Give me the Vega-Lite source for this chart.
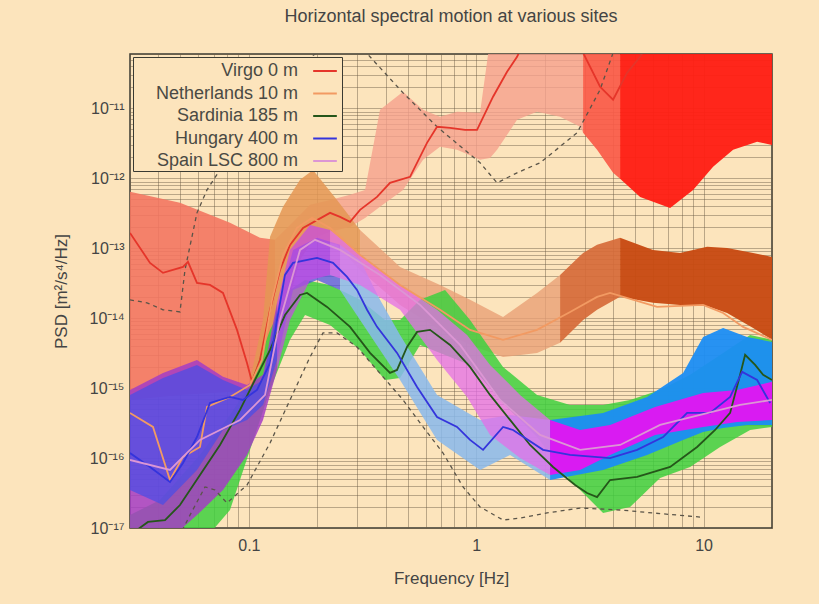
{
  "$schema": "https://vega.github.io/schema/vega-lite/v6.json",
  "width": 642,
  "height": 474,
  "autosize": {"type": "none"},
  "padding": {"left": 130, "top": 54, "right": 47, "bottom": 76},
  "title": {"text": "Horizontal spectral motion at various sites", "fontSize": 18, "font": "Liberation Sans", "fontWeight": "normal", "color": "#444444", "offset": 20},
  "datasets": {
    "bands": [
      {"site": "Virgo", "seg": "V1", "f": 0.03, "psd": 6.78e-16, "hi": 6.41e-13},
      {"site": "Virgo", "seg": "V1", "f": 0.04977, "psd": 8.0e-16, "hi": 4.46e-13},
      {"site": "Virgo", "seg": "V1", "f": 0.0826, "psd": 8.83e-16, "hi": 2.31e-13},
      {"site": "Virgo", "seg": "V1", "f": 0.1119, "psd": 8.0e-16, "hi": 1.41e-13},
      {"site": "Virgo", "seg": "V1", "f": 0.1303, "psd": 1.82e-15, "hi": 1.32e-13},
      {"site": "Virgo", "seg": "V2", "f": 0.1303, "psd": 1.82e-15, "hi": 1.32e-13},
      {"site": "Virgo", "seg": "V2", "f": 0.1517, "psd": 6.38e-14, "hi": 2.16e-13},
      {"site": "Virgo", "seg": "V2", "f": 0.1858, "psd": 1.32e-13, "hi": 4.18e-13},
      {"site": "Virgo", "seg": "V2", "f": 0.2275, "psd": 1.72e-13, "hi": 4.92e-13},
      {"site": "Virgo", "seg": "V2", "f": 0.2786, "psd": 2.02e-13, "hi": 5.81e-13},
      {"site": "Virgo", "seg": "V2", "f": 0.3243, "psd": 2.72e-13, "hi": 6.84e-13},
      {"site": "Virgo", "seg": "V2", "f": 0.3775, "psd": 3.91e-13, "hi": 9.55e-12},
      {"site": "Virgo", "seg": "V2", "f": 0.4766, "psd": 6.84e-13, "hi": 1.73e-11},
      {"site": "Virgo", "seg": "V2", "f": 0.5837, "psd": 1.84e-12, "hi": 9.55e-12},
      {"site": "Virgo", "seg": "V2", "f": 0.6933, "psd": 2.82e-12, "hi": 7.59e-12},
      {"site": "Virgo", "seg": "V2", "f": 0.8236, "psd": 2.56e-12, "hi": 8.93e-12},
      {"site": "Virgo", "seg": "V2", "f": 1.0397, "psd": 1.84e-12, "hi": 8.65e-12},
      {"site": "Virgo", "seg": "V2", "f": 1.1504, "psd": 1.96e-12, "hi": 9.57e-11},
      {"site": "Virgo", "seg": "V2", "f": 1.235, "psd": 2.56e-12, "hi": 9.57e-11},
      {"site": "Virgo", "seg": "V2", "f": 1.5123, "psd": 6.87e-12, "hi": 9.57e-11},
      {"site": "Virgo", "seg": "V2", "f": 1.852, "psd": 8.93e-12, "hi": 9.57e-11},
      {"site": "Virgo", "seg": "V2", "f": 2.3384, "psd": 7.59e-12, "hi": 9.57e-11},
      {"site": "Virgo", "seg": "V2", "f": 2.8635, "psd": 5.46e-12, "hi": 9.57e-11},
      {"site": "Virgo", "seg": "V2", "f": 2.9519, "psd": 4.48e-12, "hi": 9.57e-11},
      {"site": "Virgo", "seg": "V3", "f": 2.9519, "psd": 4.48e-12, "hi": 9.57e-11},
      {"site": "Virgo", "seg": "V3", "f": 3.4007, "psd": 2.56e-12, "hi": 9.57e-11},
      {"site": "Virgo", "seg": "V3", "f": 3.9991, "psd": 1.2e-12, "hi": 9.57e-11},
      {"site": "Virgo", "seg": "V3", "f": 4.2935, "psd": 9.84e-13, "hi": 9.57e-11},
      {"site": "Virgo", "seg": "V4", "f": 4.2935, "psd": 9.84e-13, "hi": 9.57e-11},
      {"site": "Virgo", "seg": "V4", "f": 5.2596, "psd": 5.43e-13, "hi": 9.57e-11},
      {"site": "Virgo", "seg": "V4", "f": 7.1269, "psd": 3.78e-13, "hi": 9.57e-11},
      {"site": "Virgo", "seg": "V4", "f": 8.995, "psd": 6.84e-13, "hi": 9.57e-11},
      {"site": "Virgo", "seg": "V4", "f": 11.016, "psd": 1.46e-12, "hi": 9.57e-11},
      {"site": "Virgo", "seg": "V4", "f": 13.49, "psd": 2.56e-12, "hi": 9.57e-11},
      {"site": "Virgo", "seg": "V4", "f": 17.204, "psd": 3.33e-12, "hi": 9.57e-11},
      {"site": "Virgo", "seg": "V4", "f": 20, "psd": 3.01e-12, "hi": 9.57e-11},

      {"site": "Netherlands", "seg": "N1", "f": 0.1012, "psd": 6.78e-16, "hi": 1.31e-15},
      {"site": "Netherlands", "seg": "N1", "f": 0.1154, "psd": 6.78e-16, "hi": 9.46e-15},
      {"site": "Netherlands", "seg": "N1", "f": 0.1239, "psd": 9.42e-16, "hi": 1.46e-13},
      {"site": "Netherlands", "seg": "N1", "f": 0.1413, "psd": 9.46e-15, "hi": 3.91e-13},
      {"site": "Netherlands", "seg": "N1", "f": 0.1679, "psd": 6.82e-14, "hi": 9.51e-13},
      {"site": "Netherlands", "seg": "N1", "f": 0.1915, "psd": 1.32e-13, "hi": 1.32e-12},
      {"site": "Netherlands", "seg": "N1", "f": 0.2442, "psd": 1.12e-13, "hi": 4.92e-13},
      {"site": "Netherlands", "seg": "N1", "f": 0.3083, "psd": 4.91e-14, "hi": 1.83e-13},
      {"site": "Netherlands", "seg": "N2", "f": 0.3083, "psd": 4.91e-14, "hi": 1.83e-13},
      {"site": "Netherlands", "seg": "N2", "f": 0.4623, "psd": 1.55e-14, "hi": 5.42e-14},
      {"site": "Netherlands", "seg": "N2", "f": 0.6933, "psd": 6.81e-15, "hi": 2.99e-14},
      {"site": "Netherlands", "seg": "N2", "f": 0.9395, "psd": 4.15e-15, "hi": 1.83e-14},
      {"site": "Netherlands", "seg": "N2", "f": 1.3123, "psd": 2.79e-15, "hi": 1.04e-14},
      {"site": "Netherlands", "seg": "N2", "f": 1.852, "psd": 3.19e-15, "hi": 2.3e-14},
      {"site": "Netherlands", "seg": "N2", "f": 2.3384, "psd": 4.44e-15, "hi": 4.16e-14},
      {"site": "Netherlands", "seg": "N3", "f": 2.3384, "psd": 4.44e-15, "hi": 4.16e-14},
      {"site": "Netherlands", "seg": "N3", "f": 2.9519, "psd": 9.46e-15, "hi": 8.59e-14},
      {"site": "Netherlands", "seg": "N3", "f": 3.4007, "psd": 1.32e-14, "hi": 1.12e-13},
      {"site": "Netherlands", "seg": "N3", "f": 4.2935, "psd": 2.02e-14, "hi": 1.41e-13},
      {"site": "Netherlands", "seg": "N4", "f": 4.2935, "psd": 2.02e-14, "hi": 1.41e-13},
      {"site": "Netherlands", "seg": "N4", "f": 5.9979, "psd": 1.66e-14, "hi": 9.48e-14},
      {"site": "Netherlands", "seg": "N4", "f": 7.885, "psd": 1.55e-14, "hi": 8.59e-14},
      {"site": "Netherlands", "seg": "N4", "f": 10.366, "psd": 1.5e-14, "hi": 1.05e-13},
      {"site": "Netherlands", "seg": "N4", "f": 12.694, "psd": 1.19e-14, "hi": 1.01e-13},
      {"site": "Netherlands", "seg": "N4", "f": 16.52, "psd": 7.26e-15, "hi": 8.59e-14},
      {"site": "Netherlands", "seg": "N4", "f": 20, "psd": 4.9e-15, "hi": 7.53e-14},

      {"site": "Sardinia", "seg": "G1", "f": 0.03, "psd": 5.71e-18, "hi": 1.53e-17},
      {"site": "Sardinia", "seg": "G1", "f": 0.04065, "psd": 5.71e-18, "hi": 2.52e-17},
      {"site": "Sardinia", "seg": "G1", "f": 0.06095, "psd": 5.71e-18, "hi": 1.11e-16},
      {"site": "Sardinia", "seg": "G1", "f": 0.0826, "psd": 1.81e-17, "hi": 4.14e-16},
      {"site": "Sardinia", "seg": "G1", "f": 0.1012, "psd": 1.31e-16, "hi": 1.11e-15},
      {"site": "Sardinia", "seg": "G1", "f": 0.1239, "psd": 9.42e-16, "hi": 6.81e-15},
      {"site": "Sardinia", "seg": "G1", "f": 0.1517, "psd": 4.9e-15, "hi": 2.54e-14},
      {"site": "Sardinia", "seg": "G1", "f": 0.1766, "psd": 1.11e-14, "hi": 3.53e-14},
      {"site": "Sardinia", "seg": "G1", "f": 0.2275, "psd": 8.02e-15, "hi": 2.99e-14},
      {"site": "Sardinia", "seg": "G1", "f": 0.3083, "psd": 3.52e-15, "hi": 1.83e-14},
      {"site": "Sardinia", "seg": "G1", "f": 0.3972, "psd": 1.31e-15, "hi": 9.46e-15},
      {"site": "Sardinia", "seg": "G1", "f": 0.4623, "psd": 1.4e-15, "hi": 9.46e-15},
      {"site": "Sardinia", "seg": "G1", "f": 0.5662, "psd": 4.15e-15, "hi": 1.83e-14},
      {"site": "Sardinia", "seg": "G1", "f": 0.7294, "psd": 2.99e-15, "hi": 2.54e-14},
      {"site": "Sardinia", "seg": "G1", "f": 0.9395, "psd": 2.15e-15, "hi": 9.46e-15},
      {"site": "Sardinia", "seg": "G1", "f": 1.3123, "psd": 6.14e-16, "hi": 2.01e-15},
      {"site": "Sardinia", "seg": "G1", "f": 1.852, "psd": 2.0e-16, "hi": 8.0e-16},
      {"site": "Sardinia", "seg": "G1", "f": 2.588, "psd": 4.86e-17, "hi": 5.75e-16},
      {"site": "Sardinia", "seg": "G1", "f": 3.6137, "psd": 1.64e-17, "hi": 5.75e-16},
      {"site": "Sardinia", "seg": "G1", "f": 4.7514, "psd": 2.0e-17, "hi": 6.78e-16},
      {"site": "Sardinia", "seg": "G1", "f": 6.4387, "psd": 5.19e-17, "hi": 9.42e-16},
      {"site": "Sardinia", "seg": "G1", "f": 8.7258, "psd": 7.46e-17, "hi": 1.55e-15},
      {"site": "Sardinia", "seg": "G1", "f": 11.825, "psd": 1.44e-16, "hi": 2.99e-15},
      {"site": "Sardinia", "seg": "G1", "f": 16.026, "psd": 2.52e-16, "hi": 5.77e-15},
      {"site": "Sardinia", "seg": "G1", "f": 20, "psd": 2.79e-16, "hi": 4.9e-15},

      {"site": "Hungary", "seg": "H1", "f": 0.03, "psd": 3.5e-17, "hi": 8.0e-16},
      {"site": "Hungary", "seg": "H1", "f": 0.04191, "psd": 2.13e-17, "hi": 1.4e-15},
      {"site": "Hungary", "seg": "H1", "f": 0.05912, "psd": 6.76e-17, "hi": 2.15e-15},
      {"site": "Hungary", "seg": "H1", "f": 0.07694, "psd": 2.52e-16, "hi": 1.31e-15},
      {"site": "Hungary", "seg": "H1", "f": 0.09813, "psd": 3.51e-16, "hi": 9.42e-16},
      {"site": "Hungary", "seg": "H1", "f": 0.1154, "psd": 5.75e-16, "hi": 1.31e-15},
      {"site": "Hungary", "seg": "H1", "f": 0.133, "psd": 2.53e-15, "hi": 1.32e-14},
      {"site": "Hungary", "seg": "H1", "f": 0.1564, "psd": 2.54e-14, "hi": 9.48e-14},
      {"site": "Hungary", "seg": "H1", "f": 0.1994, "psd": 3.53e-14, "hi": 1.41e-13},
      {"site": "Hungary", "seg": "H1", "f": 0.2518, "psd": 2.54e-14, "hi": 1.12e-13},
      {"site": "Hungary", "seg": "H2", "f": 0.2518, "psd": 2.54e-14, "hi": 1.12e-13},
      {"site": "Hungary", "seg": "H2", "f": 0.3083, "psd": 9.46e-15, "hi": 6.82e-14},
      {"site": "Hungary", "seg": "H2", "f": 0.3775, "psd": 3.52e-15, "hi": 1.83e-14},
      {"site": "Hungary", "seg": "H2", "f": 0.4623, "psd": 1.31e-15, "hi": 5.77e-15},
      {"site": "Hungary", "seg": "H2", "f": 0.6725, "psd": 1.82e-16, "hi": 8.0e-16},
      {"site": "Hungary", "seg": "H2", "f": 1.0397, "psd": 6.76e-17, "hi": 3.51e-16},
      {"site": "Hungary", "seg": "H2", "f": 1.4088, "psd": 1.11e-16, "hi": 4.14e-16},
      {"site": "Hungary", "seg": "H2", "f": 2.1128, "psd": 4.86e-17, "hi": 3.51e-16},
      {"site": "Hungary", "seg": "H3", "f": 2.1128, "psd": 4.86e-17, "hi": 3.51e-16},
      {"site": "Hungary", "seg": "H3", "f": 3.6137, "psd": 6.76e-17, "hi": 4.42e-16},
      {"site": "Hungary", "seg": "H3", "f": 5.6442, "psd": 1.11e-16, "hi": 7.48e-16},
      {"site": "Hungary", "seg": "H3", "f": 8.1283, "psd": 1.82e-16, "hi": 1.65e-15},
      {"site": "Hungary", "seg": "H3", "f": 9.9541, "psd": 2.36e-16, "hi": 5.4e-15},
      {"site": "Hungary", "seg": "H3", "f": 12.19, "psd": 2.7e-16, "hi": 7.26e-15},
      {"site": "Hungary", "seg": "H3", "f": 15.545, "psd": 2.98e-16, "hi": 5.4e-15},
      {"site": "Hungary", "seg": "H3", "f": 20, "psd": 2.98e-16, "hi": 4.58e-15},

      {"site": "Spain", "seg": "S1", "f": 0.03, "psd": 5.71e-18, "hi": 9.42e-16},
      {"site": "Spain", "seg": "S1", "f": 0.04191, "psd": 5.71e-18, "hi": 1.65e-15},
      {"site": "Spain", "seg": "S1", "f": 0.05912, "psd": 1.53e-17, "hi": 2.53e-15},
      {"site": "Spain", "seg": "S1", "f": 0.07694, "psd": 3.5e-17, "hi": 1.45e-15},
      {"site": "Spain", "seg": "S1", "f": 0.09813, "psd": 1.11e-16, "hi": 1.11e-15},
      {"site": "Spain", "seg": "S1", "f": 0.1154, "psd": 3.51e-16, "hi": 1.55e-15},
      {"site": "Spain", "seg": "S1", "f": 0.133, "psd": 1.82e-15, "hi": 1.66e-14},
      {"site": "Spain", "seg": "S1b", "f": 0.133, "psd": 1.82e-15, "hi": 1.66e-14},
      {"site": "Spain", "seg": "S1b", "f": 0.1517, "psd": 9.46e-15, "hi": 9.48e-14},
      {"site": "Spain", "seg": "S1b", "f": 0.1858, "psd": 3.53e-14, "hi": 2.16e-13},
      {"site": "Spain", "seg": "S1b", "f": 0.2275, "psd": 4.16e-14, "hi": 1.83e-13},
      {"site": "Spain", "seg": "S2", "f": 0.2275, "psd": 4.16e-14, "hi": 1.83e-13},
      {"site": "Spain", "seg": "S2", "f": 0.3083, "psd": 2.99e-14, "hi": 8.05e-14},
      {"site": "Spain", "seg": "S2", "f": 0.4623, "psd": 1.32e-14, "hi": 2.99e-14},
      {"site": "Spain", "seg": "S2", "f": 0.6725, "psd": 2.53e-15, "hi": 1.32e-14},
      {"site": "Spain", "seg": "S2", "f": 0.9115, "psd": 7.48e-16, "hi": 5.77e-15},
      {"site": "Spain", "seg": "S2", "f": 1.1504, "psd": 2.14e-16, "hi": 2.15e-15},
      {"site": "Spain", "seg": "S2", "f": 1.559, "psd": 1.0e-16, "hi": 8.0e-16},
      {"site": "Spain", "seg": "S2", "f": 2.1128, "psd": 5.73e-17, "hi": 3.51e-16},
      {"site": "Spain", "seg": "S3", "f": 2.1128, "psd": 5.73e-17, "hi": 3.51e-16},
      {"site": "Spain", "seg": "S3", "f": 2.8635, "psd": 6.76e-17, "hi": 2.52e-16},
      {"site": "Spain", "seg": "S3", "f": 3.8792, "psd": 1.11e-16, "hi": 2.98e-16},
      {"site": "Spain", "seg": "S3", "f": 6.1207, "psd": 2.14e-16, "hi": 5.38e-16},
      {"site": "Spain", "seg": "S3", "f": 9.9541, "psd": 2.79e-16, "hi": 8.53e-16},
      {"site": "Spain", "seg": "S3", "f": 14.047, "psd": 3.28e-16, "hi": 9.42e-16},
      {"site": "Spain", "seg": "S3", "f": 20, "psd": 3.51e-16, "hi": 1.23e-15}
    ],
    "models": [
      {"model": "NHNM", "f": 0.03, "psd": 1.83e-14},
      {"model": "NHNM", "f": 0.03563, "psd": 1.66e-14},
      {"model": "NHNM", "f": 0.04191, "psd": 1.32e-14},
      {"model": "NHNM", "f": 0.04977, "psd": 1.23e-14},
      {"model": "NHNM", "f": 0.05236, "psd": 4.91e-14},
      {"model": "NHNM", "f": 0.05912, "psd": 3.21e-13},
      {"model": "NHNM", "f": 0.06543, "psd": 6.84e-13},
      {"model": "NHNM", "f": 0.07464, "psd": 1.32e-12},
      {"model": "NHNM", "f": 0.08012, "psd": 1.46e-12},
      {"model": "NHNM", "f": 0.09141, "psd": 2.56e-12},
      {"model": "NHNM", "f": 0.1119, "psd": 9.55e-12},
      {"model": "NHNM", "f": 0.1517, "psd": 3.56e-11},
      {"model": "NHNM", "f": 0.2275, "psd": 8.13e-11},
      {"model": "NHNM", "f": 0.3083, "psd": 8.13e-11},
      {"model": "NHNM", "f": 0.3411, "psd": 5.47e-11},
      {"model": "NHNM", "f": 0.4766, "psd": 1.67e-11},
      {"model": "NHNM", "f": 0.6725, "psd": 5.46e-12},
      {"model": "NHNM", "f": 1.0397, "psd": 1.67e-12},
      {"model": "NHNM", "f": 1.235, "psd": 8.63e-13},
      {"model": "NHNM", "f": 1.5123, "psd": 1.2e-12},
      {"model": "NHNM", "f": 1.9091, "psd": 1.67e-12},
      {"model": "NHNM", "f": 2.7778, "psd": 4.48e-12},
      {"model": "NHNM", "f": 3.5055, "psd": 1.85e-11},
      {"model": "NHNM", "f": 3.9991, "psd": 6.24e-11},
      {"model": "NHNM", "f": 4.5168, "psd": 1.33e-10},
      {"model": "NLNM", "f": 0.04732, "psd": 5.71e-18},
      {"model": "NLNM", "f": 0.05508, "psd": 1.53e-17},
      {"model": "NLNM", "f": 0.06412, "psd": 3.86e-17},
      {"model": "NLNM", "f": 0.07096, "psd": 3.5e-17},
      {"model": "NLNM", "f": 0.08012, "psd": 2.28e-17},
      {"model": "NLNM", "f": 0.09813, "psd": 4.12e-17},
      {"model": "NLNM", "f": 0.1239, "psd": 1.64e-16},
      {"model": "NLNM", "f": 0.1517, "psd": 6.78e-16},
      {"model": "NLNM", "f": 0.1858, "psd": 2.79e-15},
      {"model": "NLNM", "f": 0.2119, "psd": 6.17e-15},
      {"model": "NLNM", "f": 0.2442, "psd": 6.17e-15},
      {"model": "NLNM", "f": 0.299, "psd": 3.88e-15},
      {"model": "NLNM", "f": 0.3892, "psd": 1.45e-15},
      {"model": "NLNM", "f": 0.4766, "psd": 6.78e-16},
      {"model": "NLNM", "f": 0.5837, "psd": 2.79e-16},
      {"model": "NLNM", "f": 0.7147, "psd": 1.18e-16},
      {"model": "NLNM", "f": 0.8752, "psd": 3.86e-17},
      {"model": "NLNM", "f": 1.0397, "psd": 2.0e-17},
      {"model": "NLNM", "f": 1.3123, "psd": 1.3e-17},
      {"model": "NLNM", "f": 1.559, "psd": 1.39e-17},
      {"model": "NLNM", "f": 2.0495, "psd": 1.64e-17},
      {"model": "NLNM", "f": 2.8635, "psd": 1.93e-17},
      {"model": "NLNM", "f": 4.2935, "psd": 1.81e-17},
      {"model": "NLNM", "f": 5.9979, "psd": 1.64e-17},
      {"model": "NLNM", "f": 10, "psd": 1.42e-17}
    ],
    "lines": [
      {"site": "Virgo 0 m", "f": 0.03, "psd": 1.66e-13},
      {"site": "Virgo 0 m", "f": 0.03674, "psd": 6.18e-14},
      {"site": "Virgo 0 m", "f": 0.04191, "psd": 4.45e-14},
      {"site": "Virgo 0 m", "f": 0.05131, "psd": 5.42e-14},
      {"site": "Virgo 0 m", "f": 0.05398, "psd": 6.38e-14},
      {"site": "Virgo 0 m", "f": 0.05912, "psd": 3.2e-14},
      {"site": "Virgo 0 m", "f": 0.06745, "psd": 2.99e-14},
      {"site": "Virgo 0 m", "f": 0.07694, "psd": 2.3e-14},
      {"site": "Virgo 0 m", "f": 0.08867, "psd": 6.81e-15},
      {"site": "Virgo 0 m", "f": 0.09813, "psd": 2.29e-15},
      {"site": "Virgo 0 m", "f": 0.1032, "psd": 1.23e-15},
      {"site": "Virgo 0 m", "f": 0.1119, "psd": 2.53e-15},
      {"site": "Virgo 0 m", "f": 0.1239, "psd": 1.32e-14},
      {"site": "Virgo 0 m", "f": 0.1371, "psd": 4.91e-14},
      {"site": "Virgo 0 m", "f": 0.1517, "psd": 1.12e-13},
      {"site": "Virgo 0 m", "f": 0.1731, "psd": 1.96e-13},
      {"site": "Virgo 0 m", "f": 0.2275, "psd": 3.21e-13},
      {"site": "Virgo 0 m", "f": 0.2518, "psd": 2.81e-13},
      {"site": "Virgo 0 m", "f": 0.2786, "psd": 2.39e-13},
      {"site": "Virgo 0 m", "f": 0.3083, "psd": 3.54e-13},
      {"site": "Virgo 0 m", "f": 0.3662, "psd": 5.43e-13},
      {"site": "Virgo 0 m", "f": 0.4176, "psd": 8.63e-13},
      {"site": "Virgo 0 m", "f": 0.5116, "psd": 1.05e-12},
      {"site": "Virgo 0 m", "f": 0.6075, "psd": 3.22e-12},
      {"site": "Virgo 0 m", "f": 0.6725, "psd": 5.46e-12},
      {"site": "Virgo 0 m", "f": 0.7672, "psd": 5.27e-12},
      {"site": "Virgo 0 m", "f": 0.8932, "psd": 4.94e-12},
      {"site": "Virgo 0 m", "f": 1.0085, "psd": 4.94e-12},
      {"site": "Virgo 0 m", "f": 1.1859, "psd": 1.47e-11},
      {"site": "Virgo 0 m", "f": 1.3666, "psd": 3.34e-11},
      {"site": "Virgo 0 m", "f": 1.5123, "psd": 5.47e-11},
      {"site": "Virgo 0 m", "f": 1.6399, "psd": 9.57e-11},
      {"site": "Virgo 0 m", "f": 2.7221, "psd": 9.57e-11},
      {"site": "Virgo 0 m", "f": 2.9519, "psd": 6.24e-11},
      {"site": "Virgo 0 m", "f": 3.5055, "psd": 2.04e-11},
      {"site": "Virgo 0 m", "f": 3.9991, "psd": 1.33e-11},
      {"site": "Virgo 0 m", "f": 4.6093, "psd": 3.23e-11},
      {"site": "Virgo 0 m", "f": 5.2596, "psd": 5.47e-11},
      {"site": "Virgo 0 m", "f": 5.8184, "psd": 9.57e-11},
      {"site": "Virgo 0 m", "f": 20, "psd": 9.57e-11},

      {"site": "Netherlands 10 m", "f": 0.03, "psd": 4.42e-16},
      {"site": "Netherlands 10 m", "f": 0.03787, "psd": 2.79e-16},
      {"site": "Netherlands 10 m", "f": 0.04498, "psd": 4.86e-17},
      {"site": "Netherlands 10 m", "f": 0.05131, "psd": 1.04e-16},
      {"site": "Netherlands 10 m", "f": 0.06095, "psd": 1.44e-16},
      {"site": "Netherlands 10 m", "f": 0.06543, "psd": 5.38e-16},
      {"site": "Netherlands 10 m", "f": 0.0826, "psd": 7.48e-16},
      {"site": "Netherlands 10 m", "f": 0.1012, "psd": 1.11e-15},
      {"site": "Netherlands 10 m", "f": 0.1142, "psd": 2.53e-15},
      {"site": "Netherlands 10 m", "f": 0.1264, "psd": 1.83e-14},
      {"site": "Netherlands 10 m", "f": 0.1413, "psd": 8.05e-14},
      {"site": "Netherlands 10 m", "f": 0.1628, "psd": 1.96e-13},
      {"site": "Netherlands 10 m", "f": 0.1896, "psd": 2.72e-13},
      {"site": "Netherlands 10 m", "f": 0.2275, "psd": 1.96e-13},
      {"site": "Netherlands 10 m", "f": 0.3083, "psd": 8.05e-14},
      {"site": "Netherlands 10 m", "f": 0.4623, "psd": 2.99e-14},
      {"site": "Netherlands 10 m", "f": 0.6933, "psd": 1.32e-14},
      {"site": "Netherlands 10 m", "f": 0.9395, "psd": 6.81e-15},
      {"site": "Netherlands 10 m", "f": 1.3123, "psd": 4.9e-15},
      {"site": "Netherlands 10 m", "f": 1.852, "psd": 6.81e-15},
      {"site": "Netherlands 10 m", "f": 2.588, "psd": 1.23e-14},
      {"site": "Netherlands 10 m", "f": 3.4007, "psd": 2.02e-14},
      {"site": "Netherlands 10 m", "f": 3.8792, "psd": 2.3e-14},
      {"site": "Netherlands 10 m", "f": 6.246, "psd": 1.45e-14},
      {"site": "Netherlands 10 m", "f": 9.9541, "psd": 1.55e-14},
      {"site": "Netherlands 10 m", "f": 12.19, "psd": 1.19e-14},
      {"site": "Netherlands 10 m", "f": 14.928, "psd": 7.52e-15},
      {"site": "Netherlands 10 m", "f": 20, "psd": 4.9e-15},

      {"site": "Sardinia 185 m", "f": 0.03, "psd": 7.94e-18},
      {"site": "Sardinia 185 m", "f": 0.036, "psd": 1.22e-17},
      {"site": "Sardinia 185 m", "f": 0.04277, "psd": 1.3e-17},
      {"site": "Sardinia 185 m", "f": 0.04977, "psd": 2.13e-17},
      {"site": "Sardinia 185 m", "f": 0.06095, "psd": 5.73e-17},
      {"site": "Sardinia 185 m", "f": 0.07464, "psd": 1.54e-16},
      {"site": "Sardinia 185 m", "f": 0.09141, "psd": 4.88e-16},
      {"site": "Sardinia 185 m", "f": 0.1064, "psd": 1.31e-15},
      {"site": "Sardinia 185 m", "f": 0.1239, "psd": 3.52e-15},
      {"site": "Sardinia 185 m", "f": 0.1442, "psd": 1.11e-14},
      {"site": "Sardinia 185 m", "f": 0.1679, "psd": 2.15e-14},
      {"site": "Sardinia 185 m", "f": 0.1802, "psd": 2.3e-14},
      {"site": "Sardinia 185 m", "f": 0.2207, "psd": 1.45e-14},
      {"site": "Sardinia 185 m", "f": 0.2786, "psd": 7.52e-15},
      {"site": "Sardinia 185 m", "f": 0.3411, "psd": 3.19e-15},
      {"site": "Sardinia 185 m", "f": 0.4176, "psd": 1.65e-15},
      {"site": "Sardinia 185 m", "f": 0.4484, "psd": 1.82e-15},
      {"site": "Sardinia 185 m", "f": 0.4963, "psd": 3.88e-15},
      {"site": "Sardinia 185 m", "f": 0.5493, "psd": 6.37e-15},
      {"site": "Sardinia 185 m", "f": 0.6263, "psd": 6.81e-15},
      {"site": "Sardinia 185 m", "f": 0.7672, "psd": 4.15e-15},
      {"site": "Sardinia 185 m", "f": 0.9395, "psd": 2.01e-15},
      {"site": "Sardinia 185 m", "f": 1.1504, "psd": 8.0e-16},
      {"site": "Sardinia 185 m", "f": 1.4088, "psd": 3.51e-16},
      {"site": "Sardinia 185 m", "f": 1.7251, "psd": 1.54e-16},
      {"site": "Sardinia 185 m", "f": 2.1779, "psd": 7.46e-17},
      {"site": "Sardinia 185 m", "f": 2.7221, "psd": 4.12e-17},
      {"site": "Sardinia 185 m", "f": 3.0737, "psd": 3.17e-17},
      {"site": "Sardinia 185 m", "f": 3.4007, "psd": 2.77e-17},
      {"site": "Sardinia 185 m", "f": 3.8792, "psd": 4.86e-17},
      {"site": "Sardinia 185 m", "f": 5.1023, "psd": 5.37e-17},
      {"site": "Sardinia 185 m", "f": 7.1269, "psd": 7.46e-17},
      {"site": "Sardinia 185 m", "f": 9.367, "psd": 1.44e-16},
      {"site": "Sardinia 185 m", "f": 11.241, "psd": 2.52e-16},
      {"site": "Sardinia 185 m", "f": 13.086, "psd": 4.42e-16},
      {"site": "Sardinia 185 m", "f": 14.481, "psd": 1.55e-15},
      {"site": "Sardinia 185 m", "f": 15.233, "psd": 2.99e-15},
      {"site": "Sardinia 185 m", "f": 16.859, "psd": 2.15e-15},
      {"site": "Sardinia 185 m", "f": 18.281, "psd": 1.55e-15},
      {"site": "Sardinia 185 m", "f": 20, "psd": 1.31e-15},

      {"site": "Hungary 400 m", "f": 0.03, "psd": 1.18e-16},
      {"site": "Hungary 400 m", "f": 0.03674, "psd": 7.46e-17},
      {"site": "Hungary 400 m", "f": 0.04498, "psd": 4.55e-17},
      {"site": "Hungary 400 m", "f": 0.05131, "psd": 8.51e-17},
      {"site": "Hungary 400 m", "f": 0.05912, "psd": 2.0e-16},
      {"site": "Hungary 400 m", "f": 0.06745, "psd": 6.14e-16},
      {"site": "Hungary 400 m", "f": 0.0826, "psd": 7.48e-16},
      {"site": "Hungary 400 m", "f": 0.09423, "psd": 6.78e-16},
      {"site": "Hungary 400 m", "f": 0.1086, "psd": 9.42e-16},
      {"site": "Hungary 400 m", "f": 0.1239, "psd": 2.29e-15},
      {"site": "Hungary 400 m", "f": 0.133, "psd": 9.46e-15},
      {"site": "Hungary 400 m", "f": 0.1442, "psd": 4.16e-14},
      {"site": "Hungary 400 m", "f": 0.1564, "psd": 6.18e-14},
      {"site": "Hungary 400 m", "f": 0.1994, "psd": 7.29e-14},
      {"site": "Hungary 400 m", "f": 0.2345, "psd": 6.18e-14},
      {"site": "Hungary 400 m", "f": 0.2703, "psd": 3.9e-14},
      {"site": "Hungary 400 m", "f": 0.299, "psd": 2.54e-14},
      {"site": "Hungary 400 m", "f": 0.3309, "psd": 1.32e-14},
      {"site": "Hungary 400 m", "f": 0.3662, "psd": 7.52e-15},
      {"site": "Hungary 400 m", "f": 0.4484, "psd": 3.19e-15},
      {"site": "Hungary 400 m", "f": 0.5493, "psd": 1.04e-15},
      {"site": "Hungary 400 m", "f": 0.6725, "psd": 3.87e-16},
      {"site": "Hungary 400 m", "f": 0.8236, "psd": 2.79e-16},
      {"site": "Hungary 400 m", "f": 0.9395, "psd": 1.82e-16},
      {"site": "Hungary 400 m", "f": 1.0718, "psd": 1.31e-16},
      {"site": "Hungary 400 m", "f": 1.3123, "psd": 2.79e-16},
      {"site": "Hungary 400 m", "f": 1.4522, "psd": 2.52e-16},
      {"site": "Hungary 400 m", "f": 1.968, "psd": 1.31e-16},
      {"site": "Hungary 400 m", "f": 2.588, "psd": 1.11e-16},
      {"site": "Hungary 400 m", "f": 3.8792, "psd": 1.0e-16},
      {"site": "Hungary 400 m", "f": 5.1023, "psd": 1.31e-16},
      {"site": "Hungary 400 m", "f": 6.6374, "psd": 2.0e-16},
      {"site": "Hungary 400 m", "f": 8.4644, "psd": 4.42e-16},
      {"site": "Hungary 400 m", "f": 10.686, "psd": 4.42e-16},
      {"site": "Hungary 400 m", "f": 13.086, "psd": 7.48e-16},
      {"site": "Hungary 400 m", "f": 14.777, "psd": 1.71e-15},
      {"site": "Hungary 400 m", "f": 17.204, "psd": 1.31e-15},
      {"site": "Hungary 400 m", "f": 19.626, "psd": 6.14e-16},

      {"site": "Spain LSC 800 m", "f": 0.03, "psd": 9.39e-17},
      {"site": "Spain LSC 800 m", "f": 0.04498, "psd": 6.76e-17},
      {"site": "Spain LSC 800 m", "f": 0.06095, "psd": 1.82e-16},
      {"site": "Spain LSC 800 m", "f": 0.09141, "psd": 3.51e-16},
      {"site": "Spain LSC 800 m", "f": 0.1178, "psd": 8.0e-16},
      {"site": "Spain LSC 800 m", "f": 0.1371, "psd": 9.46e-15},
      {"site": "Spain LSC 800 m", "f": 0.1679, "psd": 9.48e-14},
      {"site": "Spain LSC 800 m", "f": 0.1954, "psd": 1.32e-13},
      {"site": "Spain LSC 800 m", "f": 0.2518, "psd": 9.48e-14},
      {"site": "Spain LSC 800 m", "f": 0.3775, "psd": 4.16e-14},
      {"site": "Spain LSC 800 m", "f": 0.5662, "psd": 1.55e-14},
      {"site": "Spain LSC 800 m", "f": 0.849, "psd": 4.15e-15},
      {"site": "Spain LSC 800 m", "f": 1.2731, "psd": 6.78e-16},
      {"site": "Spain LSC 800 m", "f": 1.9091, "psd": 2.14e-16},
      {"site": "Spain LSC 800 m", "f": 2.8635, "psd": 1.31e-16},
      {"site": "Spain LSC 800 m", "f": 4.2935, "psd": 1.54e-16},
      {"site": "Spain LSC 800 m", "f": 6.4387, "psd": 2.98e-16},
      {"site": "Spain LSC 800 m", "f": 9.6559, "psd": 4.14e-16},
      {"site": "Spain LSC 800 m", "f": 14.481, "psd": 5.75e-16},
      {"site": "Spain LSC 800 m", "f": 20, "psd": 6.78e-16}
    ]
  },
  "encoding": {
    "x": {
      "field": "f",
      "type": "quantitative",
      "scale": {"type": "log", "domain": [0.03, 20], "nice": false},
      "axis": {
        "title": "Frequency [Hz]",
        "values": [0.03, 0.04, 0.05, 0.06, 0.07, 0.08, 0.09, 0.1, 0.2, 0.3, 0.4, 0.5, 0.6, 0.7, 0.8, 0.9, 1, 2, 3, 4, 5, 6, 7, 8, 9, 10, 20],
        "labelExpr": "datum.value == 0.1 ? '0.1' : datum.value == 1 ? '1' : datum.value == 10 ? '10' : ''",
        "labelPadding": 9,
        "titlePadding": 17
      }
    },
    "y": {
      "field": "psd",
      "type": "quantitative",
      "scale": {"type": "log", "domain": [1e-17, 6e-11], "nice": false},
      "axis": {
        "title": "PSD [m²/s⁴/Hz]",
        "values": [1e-17, 2e-17, 3e-17, 4e-17, 5e-17, 6e-17, 7e-17, 8e-17, 9e-17, 1e-16, 2e-16, 3e-16, 4e-16, 5e-16, 6e-16, 7e-16, 8e-16, 9e-16, 1e-15, 2e-15, 3e-15, 4e-15, 5e-15, 6e-15, 7e-15, 8e-15, 9e-15, 1e-14, 2e-14, 3e-14, 4e-14, 5e-14, 6e-14, 7e-14, 8e-14, 9e-14, 1e-13, 2e-13, 3e-13, 4e-13, 5e-13, 6e-13, 7e-13, 8e-13, 9e-13, 1e-12, 2e-12, 3e-12, 4e-12, 5e-12, 6e-12, 7e-12, 8e-12, 9e-12, 1e-11, 2e-11, 3e-11, 4e-11, 5e-11, 6e-11],
        "labelExpr": "datum.value == 1e-11 ? '10⁻¹¹' : datum.value == 1e-12 ? '10⁻¹²' : datum.value == 1e-13 ? '10⁻¹³' : datum.value == 1e-14 ? '10⁻¹⁴' : datum.value == 1e-15 ? '10⁻¹⁵' : datum.value == 1e-16 ? '10⁻¹⁶' : datum.value == 1e-17 ? '10⁻¹⁷' : ''",
        "labelPadding": 6,
        "titlePadding": 19
      }
    }
  },
  "layer": [
    {
      "data": {"name": "bands"},
      "transform": [{"filter": "datum.site === 'Virgo'"}],
      "mark": {"type": "area", "clip": true},
      "encoding": {
        "y2": {"field": "hi"},
        "fill": {
          "field": "seg", "type": "nominal", "legend": null,
          "scale": {
            "domain": ["V1", "V2", "V3", "V4", "N1", "N2", "N3", "N4", "G1", "H1", "H2", "H3", "S1", "S1b", "S2", "S3"],
            "range": ["rgba(243,118,96,0.9)", "rgba(245,160,140,0.8)", "rgba(250,90,72,0.92)", "rgba(255,30,20,0.96)", "rgba(228,150,84,0.85)", "rgba(232,160,118,0.8)", "rgba(214,106,56,0.92)", "rgba(200,74,18,0.96)", "rgba(62,208,62,0.85)", "rgba(72,78,230,0.72)", "rgba(136,184,236,0.85)", "rgba(27,141,244,0.95)", "rgba(165,60,196,0.85)", "rgba(198,72,228,0.72)", "rgba(228,110,232,0.75)", "rgba(228,21,242,0.95)"]
          }
        }
      }
    },
    {
      "data": {"name": "bands"},
      "transform": [{"filter": "datum.site === 'Netherlands'"}],
      "mark": {"type": "area", "clip": true},
      "encoding": {"y2": {"field": "hi"}, "fill": {"field": "seg", "type": "nominal", "legend": null}}
    },
    {
      "data": {"name": "bands"},
      "transform": [{"filter": "datum.site === 'Sardinia'"}],
      "mark": {"type": "area", "clip": true},
      "encoding": {"y2": {"field": "hi"}, "fill": {"field": "seg", "type": "nominal", "legend": null}}
    },
    {
      "data": {"name": "bands"},
      "transform": [{"filter": "datum.seg === 'S1'"}],
      "mark": {"type": "area", "clip": true},
      "encoding": {"y2": {"field": "hi"}, "fill": {"field": "seg", "type": "nominal", "legend": null}}
    },
    {
      "data": {"name": "bands"},
      "transform": [{"filter": "datum.site === 'Hungary'"}],
      "mark": {"type": "area", "clip": true},
      "encoding": {"y2": {"field": "hi"}, "fill": {"field": "seg", "type": "nominal", "legend": null}}
    },
    {
      "data": {"name": "bands"},
      "transform": [{"filter": "datum.site === 'Spain' && datum.seg !== 'S1'"}],
      "mark": {"type": "area", "clip": true},
      "encoding": {"y2": {"field": "hi"}, "fill": {"field": "seg", "type": "nominal", "legend": null}}
    },
    {
      "data": {"name": "models"},
      "mark": {"type": "line", "clip": true, "strokeDash": [4, 4], "strokeWidth": 1.3, "color": "#5a5448"},
      "encoding": {"detail": {"field": "model", "type": "nominal"}}
    },
    {
      "data": {"name": "lines"},
      "mark": {"type": "line", "clip": true, "strokeWidth": 1.8},
      "encoding": {
        "stroke": {
          "field": "site", "type": "nominal",
          "scale": {
            "domain": ["Virgo 0 m", "Netherlands 10 m", "Sardinia 185 m", "Hungary 400 m", "Spain LSC 800 m"],
            "range": ["#e5352a", "#f29a62", "#25561a", "#3434dc", "#dc96d4"]
          },
          "legend": {
            "title": null,
            "orient": "top-left",
            "offset": 3,
            "padding": 1,
            "fillColor": "#fce4bc",
            "strokeColor": "#3a3a32",
            "symbolType": "stroke",
            "symbolSize": 560,
            "symbolStrokeWidth": 2,
            "symbolOffset": 178,
            "labelAlign": "right",
            "labelOffset": -40,
            "labelFont": "Liberation Sans",
            "labelFontSize": 18,
            "labelColor": "#4a4a44",
            "rowPadding": 0.5,
            "labelLimit": 300
          }
        }
      }
    }
  ],
  "config": {
    "background": "#fce4bc",
    "font": "Liberation Sans",
    "view": {"stroke": "#3a3a32", "strokeWidth": 1.5},
    "axis": {
      "grid": true,
      "gridColor": "#6b5a44",
      "gridOpacity": 0.45,
      "gridWidth": 1,
      "ticks": false,
      "tickSize": 0,
      "domain": false,
      "labelColor": "#444444",
      "labelFontSize": 16,
      "labelOverlap": false,
      "labelBound": false,
      "labelFlush": false,
      "titleColor": "#444444",
      "titleFontSize": 17,
      "titleFontWeight": "normal",
      "labelFont": "Liberation Sans",
      "titleFont": "Liberation Sans"
    }
  }
}
